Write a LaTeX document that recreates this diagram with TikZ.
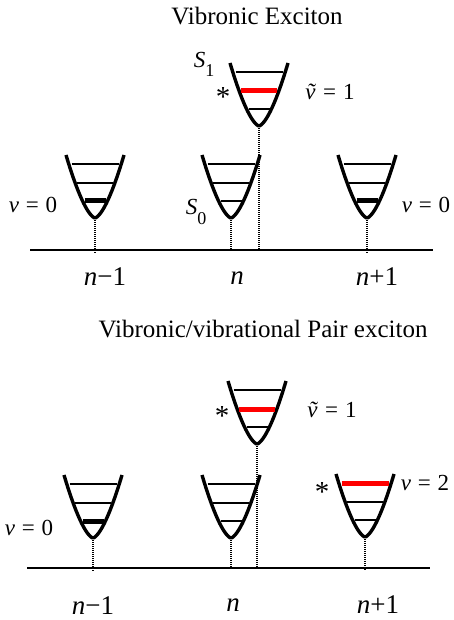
\documentclass[tikz,border=0pt]{standalone}
\usepackage{fontspec}
\setmainfont{Liberation Serif}
\newcommand\wellAt[5]{%
 \begin{scope}[shift={(#2)}]
  \coordinate (#1) at (0,0);
  \draw[wellcurve] plot[domain=-29:29, samples=40, smooth] (\x,{-63*pow(abs(\x)/29,1.55)});
  \draw[#3] (-23.5,-54) -- (23.5,-54);
  \draw[#4] (-18,-35) -- (18,-35);
  \draw[#5] (-10.5,-17) -- (10.5,-17);
 \end{scope}}
\newcommand\eqsp{\hspace{0.3em}=\hspace{0.3em}}
\begin{document}
\begin{tikzpicture}[x=1pt,y=-1pt,
 wellcurve/.style={line width=3.4pt, line join=round},
 lvl/.style={line width=1.4pt},
 glvl/.style={line width=5pt},
 rlvl/.style={line width=5pt, draw=red},
 dotline/.style={line width=1.3pt, dash pattern=on 1pt off 1pt},
 axisline/.style={line width=1.3pt},
 ttl/.style={font=\fontsize{25}{30}\selectfont, inner sep=0},
 lbl/.style={font=\fontsize{23}{28}\selectfont, inner sep=0},
 starlbl/.style={font=\fontsize{29}{32}\selectfont, inner sep=0},
 nlbl/.style={font=\fontsize{27}{32}\selectfont, inner sep=0},
]
\useasboundingbox (0,0) rectangle (453,620);
% ---------- top panel ----------
\node[ttl] (t1) at (257,16) {Vibronic Exciton};
\wellAt{wa}{95,218}{lvl}{lvl}{glvl}
\wellAt{ws1}{259,126}{lvl}{rlvl}{lvl}
\wellAt{ws0}{231,218}{lvl}{lvl}{lvl}
\wellAt{wc}{367,218}{lvl}{lvl}{glvl}
\coordinate (axL) at (30,250);
\coordinate (axR) at (433,250);
\draw[axisline] (axL) -- (axR);
\coordinate (pa) at (95,253);
\coordinate (ps0) at (231,251);
\coordinate (ps1) at (259,251);
\coordinate (pc) at (367,253);
\draw[dotline] (wa) -- (pa);
\draw[dotline] (ws0) -- (ps0);
\draw[dotline] (ws1) -- (ps1);
\draw[dotline] (wc) -- (pc);
\node[lbl] (s1) at (204,64) {\textit{S}\raisebox{-0.4em}{\fontsize{18}{20}\selectfont 1}};
\node[starlbl] (st1) at (223,97) {*};
\node[lbl] (vt1) at (330,92) {\textit{\~{v}}\eqsp 1};
\node[lbl] (va) at (33,205) {\textit{v}\eqsp 0};
\node[lbl] (s0) at (196,212) {\textit{S}\raisebox{-0.4em}{\fontsize{18}{20}\selectfont 0}};
\node[lbl] (vc) at (426,205) {\textit{v}\eqsp 0};
\node[nlbl] (na) at (105,277) {\textit{n}−1};
\node[nlbl] (nb) at (237,278) {\textit{n}};
\node[nlbl] (nc) at (377,277) {\textit{n}+1};
% ---------- bottom panel ----------
\node[ttl] (t2) at (263,329) {Vibronic/vibrational Pair exciton};
\wellAt{wd}{93,538}{lvl}{lvl}{glvl}
\wellAt{wt1}{257,444}{lvl}{rlvl}{lvl}
\wellAt{we}{231,538}{lvl}{lvl}{lvl}
\wellAt{wf}{365,537}{rlvl}{lvl}{lvl}
\coordinate (bxL) at (27,568);
\coordinate (bxR) at (430,568);
\draw[axisline] (bxL) -- (bxR);
\coordinate (pd) at (93,571);
\coordinate (pe) at (231,570);
\coordinate (pt1) at (257,570);
\coordinate (pf) at (365,570);
\draw[dotline] (wd) -- (pd);
\draw[dotline] (we) -- (pe);
\draw[dotline] (wt1) -- (pt1);
\draw[dotline] (wf) -- (pf);
\node[starlbl] (st2) at (222,416) {*};
\node[lbl] (vt2) at (332,410) {\textit{\~{v}}\eqsp 1};
\node[starlbl] (st3) at (322,492) {*};
\node[lbl] (vf) at (425,483) {\textit{v}\eqsp 2};
\node[lbl] (vd) at (29,528) {\textit{v}\eqsp 0};
\node[nlbl] (nd) at (93,606) {\textit{n}−1};
\node[nlbl] (ne) at (233,605) {\textit{n}};
\node[nlbl] (nf) at (378,605) {\textit{n}+1};
\end{tikzpicture}
\end{document}
